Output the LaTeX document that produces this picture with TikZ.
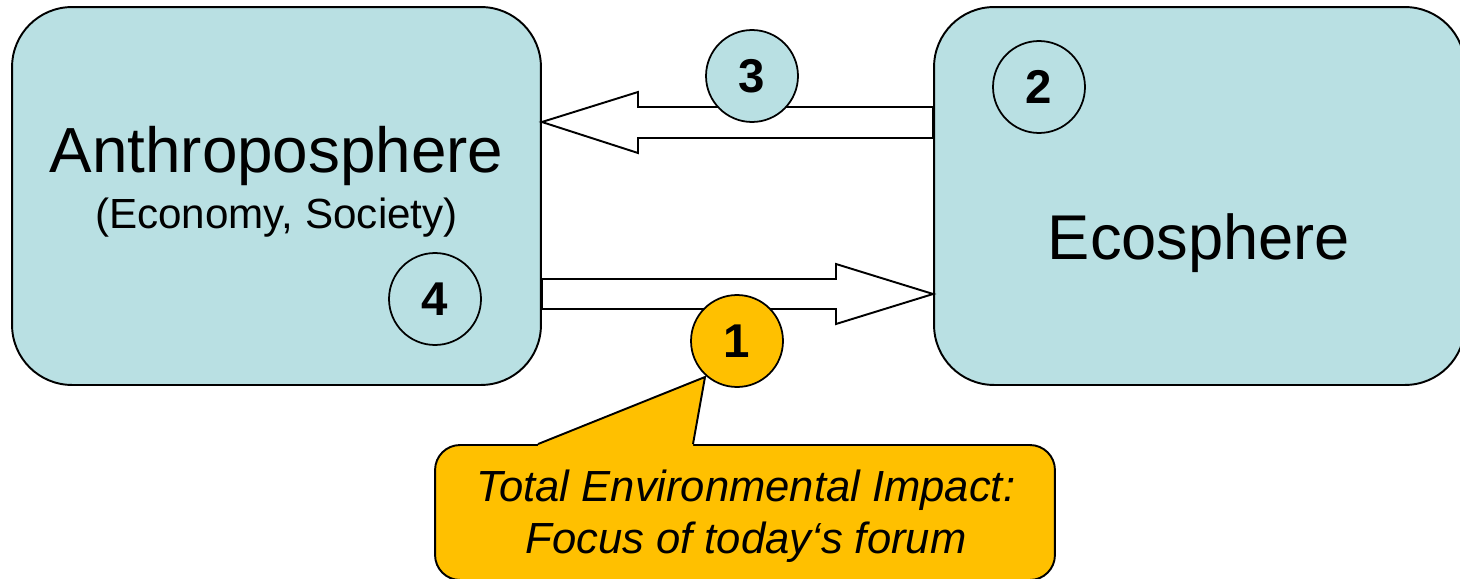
\documentclass[tikz,border=0pt]{standalone}
\usepackage{fontspec}
\setmainfont{Liberation Sans}

\definecolor{spherefill}{HTML}{B9E0E3}
\definecolor{impactfill}{HTML}{FFC000}

\tikzset{
  sphere/.style={rectangle, rounded corners=1.2cm, draw, line width=1.1pt, fill=spherefill, minimum width=10.58cm, minimum height=7.56cm},
  numcircle/.style={circle, draw, line width=1pt, fill=spherefill, minimum size=1.84cm, inner sep=0pt, font=\fontsize{27}{32}\selectfont\bfseries},
  flow/.style={draw, line width=1.1pt, fill=white, line join=miter},
  note/.style={rectangle, rounded corners=0.5cm, draw, line width=1.1pt, fill=impactfill, minimum width=12.4cm, minimum height=2.7cm, align=center, font=\fontsize{24.8}{29.5}\selectfont\itshape},
}

\begin{document}
\begin{tikzpicture}[x=0.02cm, y=-0.02cm]
			\useasboundingbox (0,0) rectangle (1460,578);
			
			% Big boxes (the two spheres)
			\node[sphere] (anthro) at (276.5,196) {};
			\node[sphere, minimum width=10.62cm] (eco) at (1199.5,196) {};
			
			\node[anchor=base, font=\fontsize{36.3}{43}\selectfont] (anthrotitle) at (276.5,172) {Anthroposphere};
			\node[anchor=base, font=\fontsize{24}{29}\selectfont] (anthrosub) at (276.5,228) {(Economy, Society)};
			\node[anchor=base, font=\fontsize{36}{43}\selectfont] (ecotitle) at (1199,259) {Ecosphere};
			
			% Flows between the spheres
			\draw[flow] (anthro.east |- 0,122) -- (638,92) -- (638,107) -- (eco.west |- 0,107)
				-- (eco.west |- 0,138) -- (638,138) -- (638,153) -- cycle;
			\draw[flow] (anthro.east |- 0,279) -- (836,279) -- (836,264) -- (eco.west |- 0,294)
				-- (836,324) -- (836,309) -- (anthro.east |- 0,309) -- cycle;
			
			% Numbered circles
			\node[numcircle] (three) at (752,76) {3};
			\node[numcircle] (two) at (1039,87) {2};
			\node[numcircle] (four) at (435,299) {4};
			\node[numcircle, fill=impactfill] (one) at (737,341) {1};
			
			% Callout
			\node[note] (impact) at (745,512.5) {};
			\node[font=\fontsize{24.8}{29.5}\selectfont\itshape, align=center] (impacttext) at (746,516) {Total Environmental Impact:\\Focus of today‘s forum};
			\coordinate (tip) at (705,377);
			\fill[impactfill] (impact.north -| 538,0) -- (tip) -- (impact.north -| 693,0) -- (693,448) -- (538,448) -- cycle;
			\draw[line width=1.1pt, line join=miter] (impact.north -| 538,0) -- (tip) -- (impact.north -| 693,0);
		\end{tikzpicture}
\end{document}
